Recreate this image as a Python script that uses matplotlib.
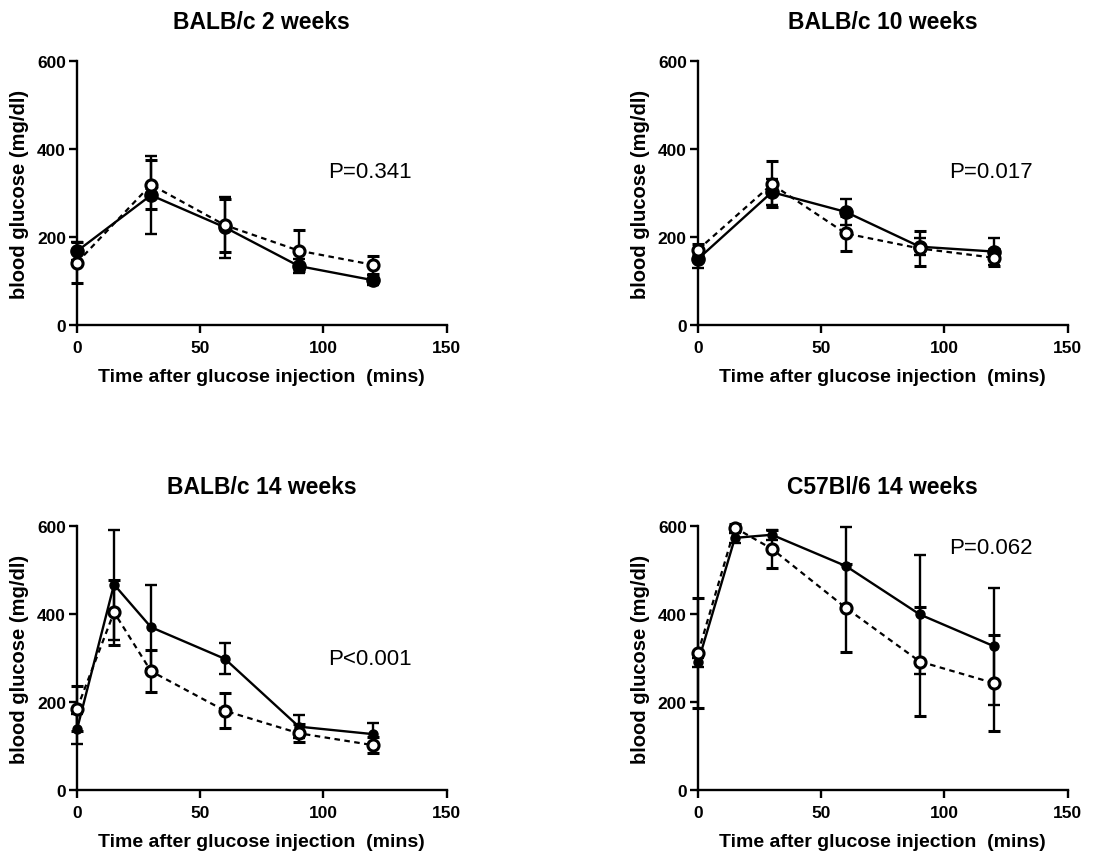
import matplotlib.pyplot as plt

plt.rcParams['font.family'] = ['Liberation Sans', 'DejaVu Sans']

# sampling times (mins)
time_short = [0, 30, 60, 90, 120]
time_long = [0, 15, 30, 60, 90, 120]

# BALB/c 2 weeks
b2_filled = [168, 295, 222, 134, 102]
b2_filled_err = [20, 88, 70, 15, 12]
b2_open = [142, 319, 227, 169, 137]
b2_open_err = [47, 55, 60, 47, 20]

# BALB/c 10 weeks
b10_filled = [150, 302, 257, 178, 167]
b10_filled_err = [20, 30, 30, 20, 30]
b10_open = [171, 320, 208, 174, 153]
b10_open_err = [12, 52, 40, 40, 20]

# BALB/c 14 weeks
b14_filled = [138, 467, 370, 298, 144, 127]
b14_filled_err = [34, 125, 95, 35, 26, 25]
b14_open = [185, 404, 270, 180, 129, 102]
b14_open_err = [52, 74, 48, 40, 20, 18]

# C57Bl/6 14 weeks
c14_filled = [290, 573, 580, 509, 399, 327]
c14_filled_err = [10, 12, 12, 89, 135, 133]
c14_open = [311, 596, 548, 414, 292, 243]
c14_open_err = [125, 8, 43, 100, 123, 110]

titles = ['BALB/c 2 weeks', 'BALB/c 10 weeks', 'BALB/c 14 weeks', 'C57Bl/6 14 weeks']
p_labels = ['P=0.341', 'P=0.017', 'P<0.001', 'P=0.062']
p_pos = [(102, 350), (102, 350), (102, 298), (102, 552)]

panels = [
    (time_short, b2_filled, b2_filled_err, b2_open, b2_open_err),
    (time_short, b10_filled, b10_filled_err, b10_open, b10_open_err),
    (time_long, b14_filled, b14_filled_err, b14_open, b14_open_err),
    (time_long, c14_filled, c14_filled_err, c14_open, c14_open_err),
]

fig = plt.figure(figsize=(11.2, 8.53), dpi=100)
boxes = [
    [0.0688, 0.6178, 0.330, 0.3095],
    [0.6232, 0.6178, 0.330, 0.3095],
    [0.0688, 0.0727, 0.330, 0.3095],
    [0.6232, 0.0727, 0.330, 0.3095],
]

for i, (t, fm, fe, om, oe) in enumerate(panels):
    ax = fig.add_axes(boxes[i])
    ms_filled = 9.5 if i < 2 else 6.5
    ax.errorbar(t, fm, yerr=fe, color='black', lw=1.7, marker='o', ms=ms_filled,
                mfc='black', mec='black', capsize=4.5, elinewidth=1.7,
                capthick=1.7, zorder=3, clip_on=False)
    ax.errorbar(t, om, yerr=oe, color='black', lw=1.6, ls=(0, (2.5, 2)),
                marker='o', ms=8, mfc='white', mec='black', mew=2.2,
                capsize=4.5, elinewidth=1.7, capthick=1.7, zorder=4,
                clip_on=False)

    ax.set_xlim(0, 150)
    ax.set_ylim(0, 600)
    ax.set_xticks([0, 50, 100, 150])
    ax.set_yticks([0, 200, 400, 600])
    ax.spines['top'].set_visible(False)
    ax.spines['right'].set_visible(False)
    ax.spines['left'].set_linewidth(1.7)
    ax.spines['bottom'].set_linewidth(1.7)
    ax.tick_params(direction='out', length=6, width=1.7, labelsize=12.5)
    ax.tick_params(axis='x', pad=5)
    ax.tick_params(axis='y', pad=2)
    for lab in ax.get_xticklabels() + ax.get_yticklabels():
        lab.set_fontweight('bold')

    ax.set_title(titles[i], fontsize=16.5, fontweight='bold', pad=24)
    ax.set_xlabel('Time after glucose injection  (mins)', fontsize=14,
                  fontweight='bold', labelpad=9)
    ax.set_ylabel('blood glucose (mg/dl)', fontsize=14.5, fontweight='bold',
                  labelpad=6)
    ax.text(p_pos[i][0], p_pos[i][1], p_labels[i], fontsize=16,
            ha='left', va='center')

fig.savefig('out.png', dpi=100)
